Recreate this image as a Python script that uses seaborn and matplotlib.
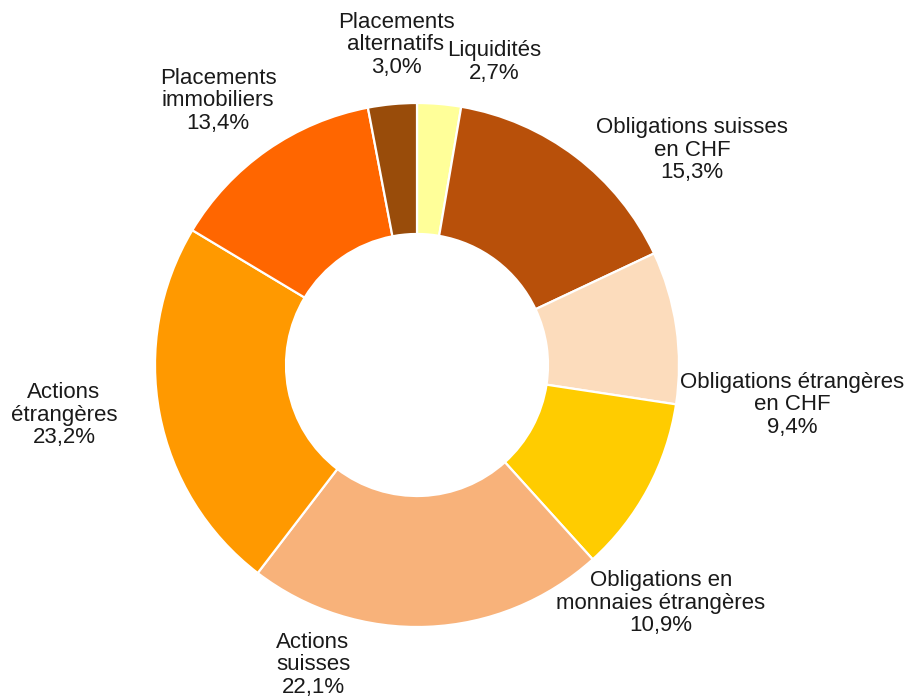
import matplotlib
matplotlib.use("Agg")
from matplotlib import pyplot as plt
import seaborn as sns

# data (clockwise from 12 o'clock)
categories = [
    "Liquidités",
    "Obligations suisses\nen CHF",
    "Obligations étrangères\nen CHF",
    "Obligations en\nmonnaies étrangères",
    "Actions\nsuisses",
    "Actions\nétrangères",
    "Placements\nimmobiliers",
    "Placements\nalternatifs",
]
shares = [2.7, 15.3, 9.4, 10.9, 22.1, 23.2, 13.4, 3.0]
colors = [
    "#FFFF99",
    "#B8500A",
    "#FCDCBC",
    "#FFCC00",
    "#F8B27A",
    "#FF9900",
    "#FF6600",
    "#994C0A",
]

# label anchor positions in pixels (x, y from top)
label_pos = [
    (494, 62),
    (692, 150),
    (792, 405),
    (661, 603),
    (313, 665),
    (64, 415),
    (218, 101),
    (396, 45),
]

sns.set_theme(style="white")
plt.rcParams["font.family"] = ["Liberation Sans", "DejaVu Sans"]

W, H = 909, 700
fig = plt.figure(figsize=(W / 100, H / 100), dpi=100)
ax = fig.add_axes([0, 0, 1, 1])

cx, cy, r = 417, H - 365, 262
ax.pie(
    shares,
    colors=colors,
    startangle=90,
    counterclock=False,
    center=(cx, cy),
    radius=r,
    wedgeprops={"width": r * 0.5, "edgecolor": "white", "linewidth": 1.6},
)

for cat, val, (px, py) in zip(categories, shares, label_pos):
    txt = f"{cat}\n{val:.1f}%".replace(".", ",")
    ax.text(
        px,
        H - py,
        txt,
        ha="center",
        va="center",
        fontsize=16,
        color="#1a1a1a",
        linespacing=1.12,
    )

ax.set_xlim(0, W)
ax.set_ylim(0, H)
ax.set_aspect("equal")
ax.axis("off")

fig.savefig("out.png", dpi=100, facecolor="white")
